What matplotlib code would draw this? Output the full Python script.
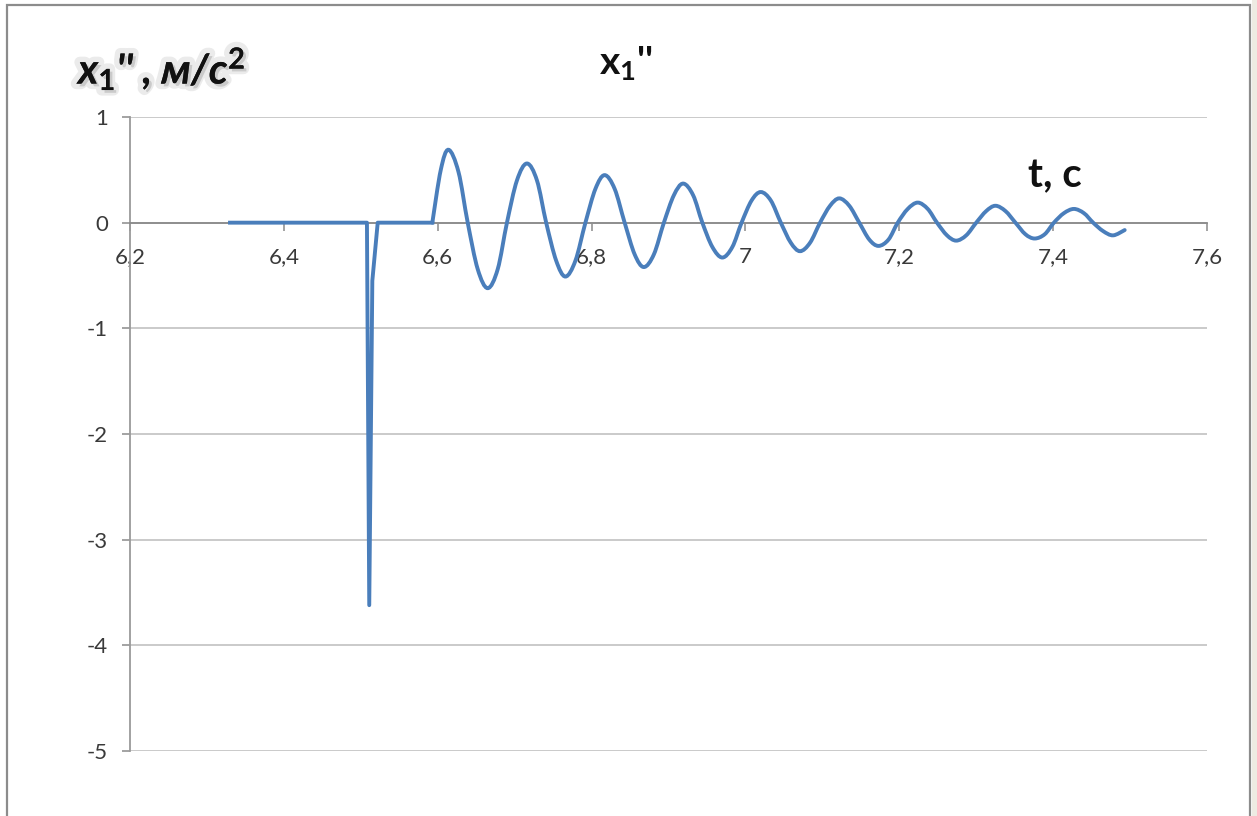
"""Acceleration x1'' versus time, Excel-style smoothed line chart"""
import matplotlib.pyplot as plt
import matplotlib.patheffects as pe
from matplotlib.path import Path
from matplotlib.patches import PathPatch, Rectangle

# time, s
t_values = [
    6.330, 6.508, 6.511, 6.515, 6.522, 6.593, 6.604,
    6.614, 6.627, 6.639, 6.652, 6.665, 6.678, 6.690, 6.703,
    6.716, 6.729, 6.741, 6.754, 6.766, 6.779, 6.792, 6.805,
    6.817, 6.830, 6.843, 6.856, 6.868, 6.881, 6.894, 6.907,
    6.919, 6.932, 6.944, 6.957, 6.970, 6.983, 6.995, 7.008,
    7.020, 7.033, 7.046, 7.059, 7.071, 7.084, 7.097, 7.110,
    7.122, 7.135, 7.148, 7.161, 7.173, 7.186, 7.198, 7.211,
    7.224, 7.237, 7.249, 7.262, 7.274, 7.287, 7.300, 7.313,
    7.325, 7.338, 7.351, 7.364, 7.376, 7.389, 7.401, 7.414,
    7.427, 7.440, 7.452, 7.465, 7.478, 7.493,
]
# x1'', m/s^2
accel_values = [
    0.0, 0.0, -3.62, -0.55, 0.0, 0.0, 0.50,
    0.69, 0.48, 0.0, -0.44, -0.62, -0.44, 0.0, 0.40,
    0.56, 0.40, 0.0, -0.36, -0.51, -0.36, 0.0, 0.32,
    0.45, 0.32, 0.0, -0.30, -0.42, -0.30, 0.0, 0.26,
    0.37, 0.26, 0.0, -0.23, -0.33, -0.23, 0.0, 0.21,
    0.29, 0.21, 0.0, -0.19, -0.27, -0.19, 0.0, 0.16,
    0.23, 0.16, 0.0, -0.16, -0.22, -0.16, 0.0, 0.13,
    0.19, 0.13, 0.0, -0.12, -0.17, -0.12, 0.0, 0.11,
    0.16, 0.11, 0.0, -0.11, -0.15, -0.11, 0.0, 0.09,
    0.13, 0.09, 0.0, -0.08, -0.12, -0.07,
]
x_ticks = [6.2, 6.4, 6.6, 6.8, 7.0, 7.2, 7.4, 7.6]
x_tick_labels = ["6,2", "6,4", "6,6", "6,8", "7", "7,2", "7,4", "7,6"]
y_ticks = [-5, -4, -3, -2, -1, 0, 1]

SMOOTH_FROM = 5  # index where the smoothed oscillation starts
LINE_COLOR = "#4a7ebb"


def smooth_path(xs, ys, k=1 / 6):
    """Bezier path through the points, like Excel's smoothed line."""
    pts = list(zip(xs, ys))
    verts = [pts[0]]
    codes = [Path.MOVETO]
    n = len(pts)
    for i in range(n - 1):
        p0 = pts[max(i - 1, 0)]
        p1 = pts[i]
        p2 = pts[i + 1]
        p3 = pts[min(i + 2, n - 1)]
        c1 = (p1[0] + (p2[0] - p0[0]) * k, p1[1] + (p2[1] - p0[1]) * k)
        c2 = (p2[0] - (p3[0] - p1[0]) * k, p2[1] - (p3[1] - p1[1]) * k)
        verts += [c1, c2, p2]
        codes += [Path.CURVE4] * 3
    return Path(verts, codes)


def main():
    plt.rcParams["font.family"] = ["Lato", "DejaVu Sans"]
    plt.rcParams["mathtext.fontset"] = "custom"
    plt.rcParams["mathtext.rm"] = "Lato:bold"
    plt.rcParams["mathtext.bf"] = "Lato:bold"
    plt.rcParams["mathtext.it"] = "Lato:italic:bold"

    fig = plt.figure(figsize=(12.57, 8.16), dpi=100)
    ax = fig.add_axes([130 / 1257, 1 - 751 / 816, 1077 / 1257, 634 / 816])

    # outer chart frame
    fig.patches.append(Rectangle((7 / 1257, -0.02), 1243 / 1257, 1 - 5 / 816 + 0.02,
                                 transform=fig.transFigure, fill=False,
                                 edgecolor="#8c8c8c", linewidth=1.6))
    fig.patches.append(Rectangle((1252 / 1257, 0), 5 / 1257, 1,
                                 transform=fig.transFigure, facecolor="#eeebe3",
                                 edgecolor="none"))

    # flat part and spike: straight segments
    ax.plot(t_values[:SMOOTH_FROM + 1], accel_values[:SMOOTH_FROM + 1],
            color=LINE_COLOR, linewidth=2.8, solid_joinstyle="round", zorder=3)
    # oscillation: smoothed
    path = smooth_path(t_values[SMOOTH_FROM:], accel_values[SMOOTH_FROM:])
    ax.add_patch(PathPatch(path, facecolor="none", edgecolor=LINE_COLOR,
                           linewidth=2.8, capstyle="round", zorder=3))

    ax.set_xlim(6.2, 7.6)
    ax.set_ylim(-5, 1)
    ax.set_xticks(x_ticks)
    ax.set_xticklabels(x_tick_labels)
    ax.set_yticks(y_ticks)
    ax.set_yticklabels([str(v) for v in y_ticks])

    ax.grid(axis="y", color="#c6c6c6", linewidth=1.3)
    ax.set_axisbelow(True)
    for side in ("top", "right"):
        ax.spines[side].set_visible(False)
    ax.spines["bottom"].set_position(("data", 0))
    ax.spines["bottom"].set_color("#8a8a8a")
    ax.spines["left"].set_color("#9a9a9a")
    ax.spines["bottom"].set_linewidth(1.3)
    ax.spines["left"].set_linewidth(1.3)
    ax.tick_params(axis="both", direction="out", length=5.8, width=1.1,
                   color="#8a8a8a", labelsize=16, labelcolor="#3a3a3a", pad=10)
    ax.tick_params(axis="x", pad=12)

    fig.text(626 / 1257, 1 - 74 / 816, r"$\mathrm{x_1}$''", ha="center",
             va="baseline", fontsize=28, fontweight="bold", color="#111111")
    fig.text(1055 / 1257, 1 - 187 / 816, "t, c", ha="center", va="baseline",
             fontsize=29, fontweight="bold", color="#111111")
    ylab = fig.text(78 / 1257, 1 - 84 / 816, r"$x_1$'' , м/с$^{2}$", ha="left",
                    va="baseline", fontsize=30, fontweight="bold",
                    fontstyle="italic", color="#111111")
    ylab.set_path_effects([
        pe.withStroke(linewidth=8, foreground="#ebebeb"),
        pe.SimplePatchShadow(offset=(2, -2), shadow_rgbFace="#9a9a9a", alpha=0.4),
        pe.Normal(),
    ])

    fig.savefig("out.png", dpi=100)


if __name__ == "__main__":
    main()
